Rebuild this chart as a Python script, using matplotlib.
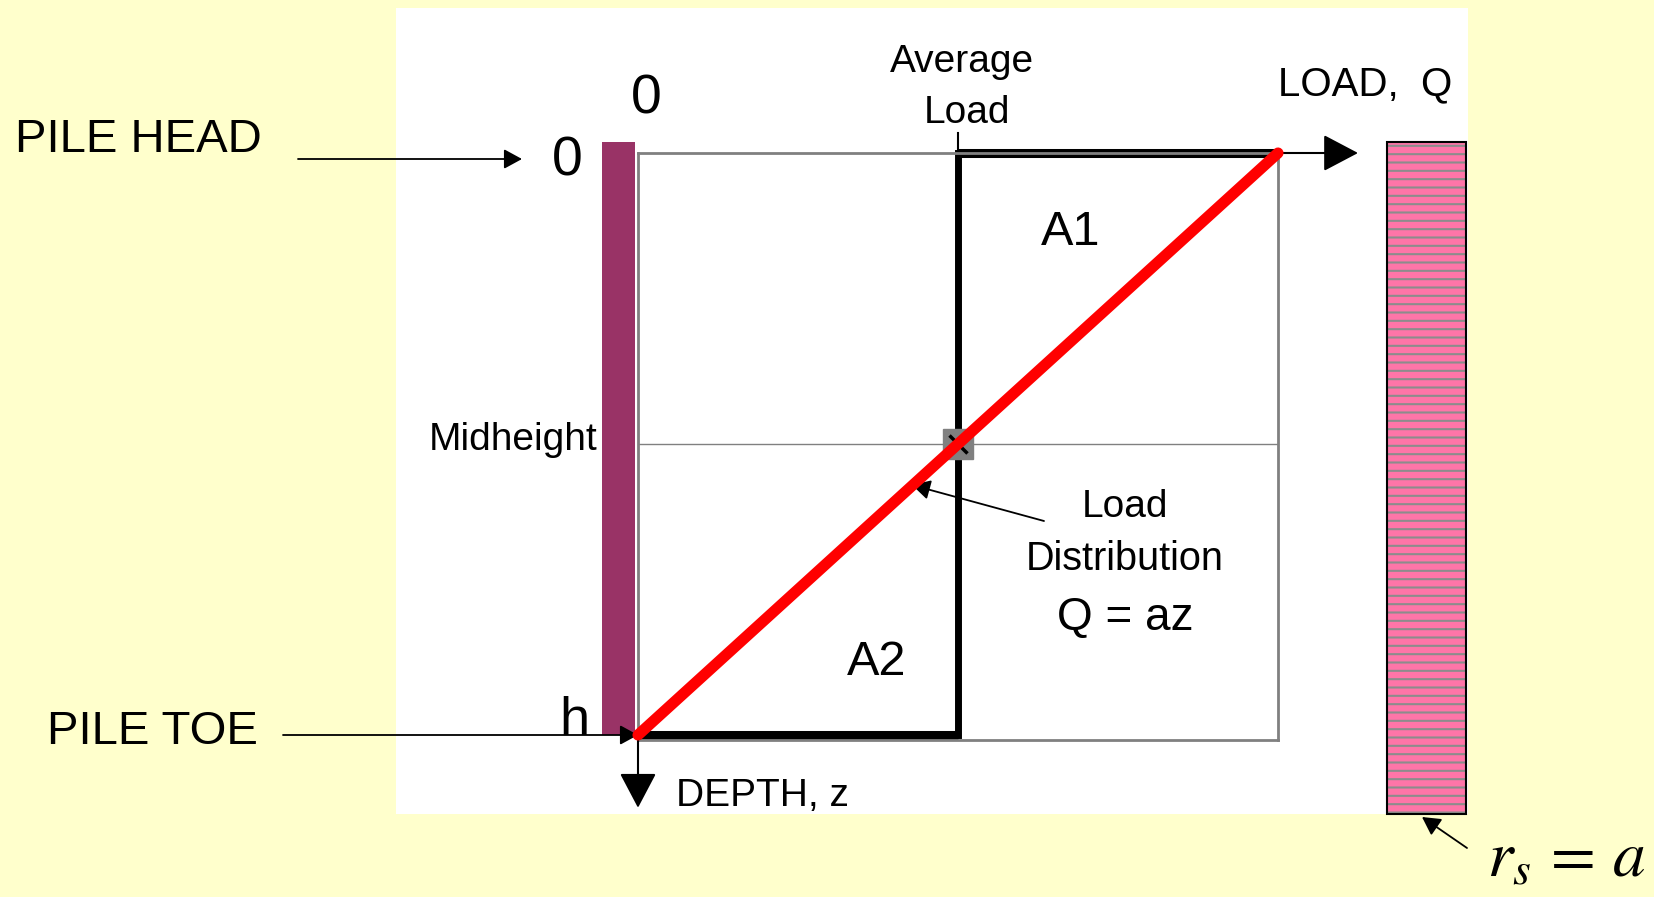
import numpy as np
import matplotlib.pyplot as plt
from matplotlib.patches import Rectangle

# pile load diagram: depth z/h and load Q/Qmax along the pile
depth = np.array([0.0, 1.0])
load = np.array([1.0, 0.0])
avg_load = load.mean()
mid_depth = depth.mean()

W, H = 1654, 897
plt.rcParams['font.family'] = ['Liberation Sans', 'DejaVu Sans']

fig = plt.figure(figsize=(W / 100, H / 100), dpi=100)
fig.patch.set_facecolor('#ffffcc')

# background layer in pixel coordinates (labels, piles, pointers)
bg = fig.add_axes([0, 0, 1, 1])
bg.set_xlim(0, W)
bg.set_ylim(H, 0)
bg.axis('off')
bg.add_patch(Rectangle((396, 8), 1072, 806, fc='white', ec='none'))

# the diagram box
x0, x1 = 638, 1278
y0, yh, yb = 153, 735, 740
ax = fig.add_axes([x0 / W, 1 - yb / H, (x1 - x0) / W, (yb - y0) / H], zorder=2)
ax.set_xlim(0, 1)
ax.set_ylim((yb - y0) / (yh - y0), 0)
ax.patch.set_alpha(0)
ax.set_xticks([])
ax.set_yticks([])
for s in ax.spines.values():
    s.set_color('#808080')
    s.set_linewidth(2)

ax.axhline(mid_depth, color='#808080', lw=1)

# average load step
ax.plot([load.max(), avg_load], [depth.min(), depth.min()], color='black', lw=6.5,
        solid_capstyle='butt', clip_on=False)
ax.plot([avg_load, avg_load], [depth.min(), depth.max()], color='black', lw=5,
        solid_capstyle='projecting', clip_on=False)
ax.plot([avg_load, load.min()], [depth.max(), depth.max()], color='black', lw=6.5,
        solid_capstyle='butt', clip_on=False)
ax.plot([avg_load, avg_load], [depth.min(), -0.035], color='black', lw=1.5, clip_on=False)

ax.plot(avg_load, mid_depth, marker='s', ms=22, color='#808080', mec='#808080', clip_on=False)
ax.plot(avg_load, mid_depth, marker='x', ms=13, mew=2.5, color='black', clip_on=False)

# load distribution
ax.plot(load, depth, color='red', lw=8, solid_capstyle='round', clip_on=False, zorder=5)

big_head = dict(arrowstyle='-|>,head_length=1.1,head_width=0.58', mutation_scale=20,
                color='black', lw=1.5, shrinkA=0, shrinkB=0)
ax.annotate('', xy=(1.125, depth.min()), xytext=(load.max(), depth.min()),
            arrowprops=big_head, annotation_clip=False)
ax.annotate('', xy=(load.min(), 1.125), xytext=(load.min(), depth.max()),
            arrowprops=big_head, annotation_clip=False)

thin_head = dict(arrowstyle='-|>,head_length=0.55,head_width=0.3', mutation_scale=20,
                 color='black', lw=1.3, shrinkA=0, shrinkB=0)

# piles
bg.add_patch(Rectangle((602, 142), 33, 593, fc='#993366', ec='none'))
plt.rcParams['hatch.linewidth'] = 1.5
bg.add_patch(Rectangle((1387, 142), 79, 672, fc='#ff75a8', ec='#8c8c8c', lw=0, hatch='--'))
bg.add_patch(Rectangle((1387, 142), 79, 672, fill=False, ec='black', lw=1.5))

# labels
bg.text(15, 152, 'PILE HEAD', fontsize=34, ha='left', va='baseline')
bg.annotate('', xy=(522, 159), xytext=(298, 159), arrowprops=thin_head)
bg.text(47, 744, 'PILE TOE', fontsize=34, ha='left', va='baseline')
bg.annotate('', xy=(638, 735), xytext=(283, 735), arrowprops=thin_head)

bg.text(567, 176, '0', fontsize=40, ha='center', va='baseline')
bg.text(646, 113, '0', fontsize=40, ha='center', va='baseline')
bg.text(574, 735, 'h', fontsize=39, ha='center', va='baseline')

bg.text(962, 72, 'Average', fontsize=28, ha='center', va='baseline')
bg.text(967, 123, 'Load', fontsize=28, ha='center', va='baseline')
bg.text(1278, 95, 'LOAD,  Q', fontsize=29, ha='left', va='baseline')

bg.text(1071, 245, 'A1', fontsize=35, ha='center', va='baseline')
bg.text(877, 675, 'A2', fontsize=35, ha='center', va='baseline')
bg.text(598, 450, 'Midheight', fontsize=28, ha='right', va='baseline')

bg.text(1125, 517, 'Load', fontsize=28, ha='center', va='baseline')
bg.text(1125, 570, 'Distribution', fontsize=28.5, ha='center', va='baseline')
bg.text(1125, 630, 'Q = az', fontsize=33, ha='center', va='baseline')
bg.annotate('', xy=(912, 485), xytext=(1044, 521), arrowprops=thin_head)

bg.text(676, 806, 'DEPTH, z', fontsize=28, ha='left', va='baseline')

bg.text(1645, 877, r'$r_s\,=\,a$', fontsize=47, math_fontfamily='stix', ha='right', va='baseline')
bg.annotate('', xy=(1422, 817), xytext=(1467, 848), arrowprops=thin_head)

fig.savefig('out.png', dpi=100, facecolor=fig.get_facecolor())
